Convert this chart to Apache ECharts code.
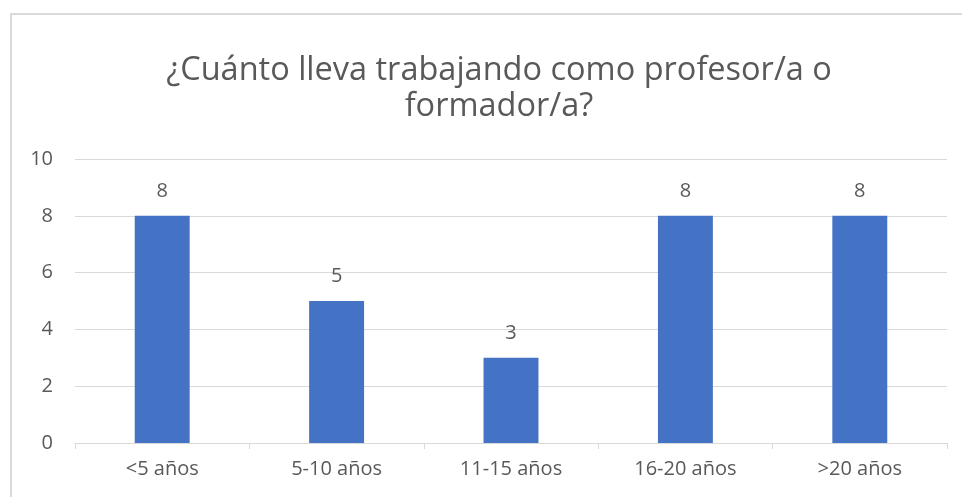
<!DOCTYPE html>
<html>
<head>
<meta charset="utf-8">
<script src="https://cdn.jsdelivr.net/npm/echarts@6/dist/echarts.min.js"></script>
<style>
  html, body { margin: 0; padding: 0; background: #fff; }
  #chart { width: 962px; height: 497px; }
</style>
</head>
<body>
<div id="chart"></div>
<script>
const categories = ['<5 años', '5-10 años', '11-15 años', '16-20 años', '>20 años']
const values = [8, 5, 3, 8, 8]
const titleText = '¿Cuánto lleva trabajando como profesor/a o\nformador/a?'

const chart = echarts.init(document.getElementById('chart'))

const option = {
  animation: false,
  graphic: [
    {
      type: 'rect',
      shape: { x: 11, y: 14, width: 980, height: 520 },
      style: { fill: 'none', stroke: '#d9d9d9', lineWidth: 2 },
      silent: true
    }
  ],
  title: {
    text: titleText,
    left: 494,
    textAlign: 'center',
    top: 48,
    textStyle: {
      color: '#595959',
      fontSize: 32.5,
      fontWeight: 'normal',
      fontFamily: 'Open Sans',
      lineHeight: 36
    }
  },
  grid: {
    left: 75,
    right: 15,
    top: 159,
    bottom: 54
  },
  xAxis: {
    type: 'category',
    data: categories,
    axisLine: { lineStyle: { color: '#d9d9d9', width: 1 } },
    axisTick: { show: true, length: 6, lineStyle: { color: '#d9d9d9' } },
    axisLabel: {
      color: '#595959',
      fontSize: 20,
      fontFamily: 'Open Sans',
      margin: 16
    }
  },
  yAxis: {
    type: 'value',
    min: 0,
    max: 10,
    interval: 2,
    axisLine: { show: false },
    axisTick: { show: false },
    splitLine: { lineStyle: { color: '#d9d9d9', width: 1 } },
    axisLabel: {
      color: '#595959',
      fontSize: 20,
      fontFamily: 'Open Sans',
      margin: 22
    }
  },
  series: [
    {
      type: 'bar',
      data: values,
      barWidth: '31.5%',
      itemStyle: { color: '#4472c4' },
      label: {
        show: true,
        position: 'top',
        distance: 15,
        color: '#595959',
        fontSize: 20,
        fontFamily: 'Open Sans'
      }
    }
  ]
}

chart.setOption(option)
</script>
</body>
</html>
